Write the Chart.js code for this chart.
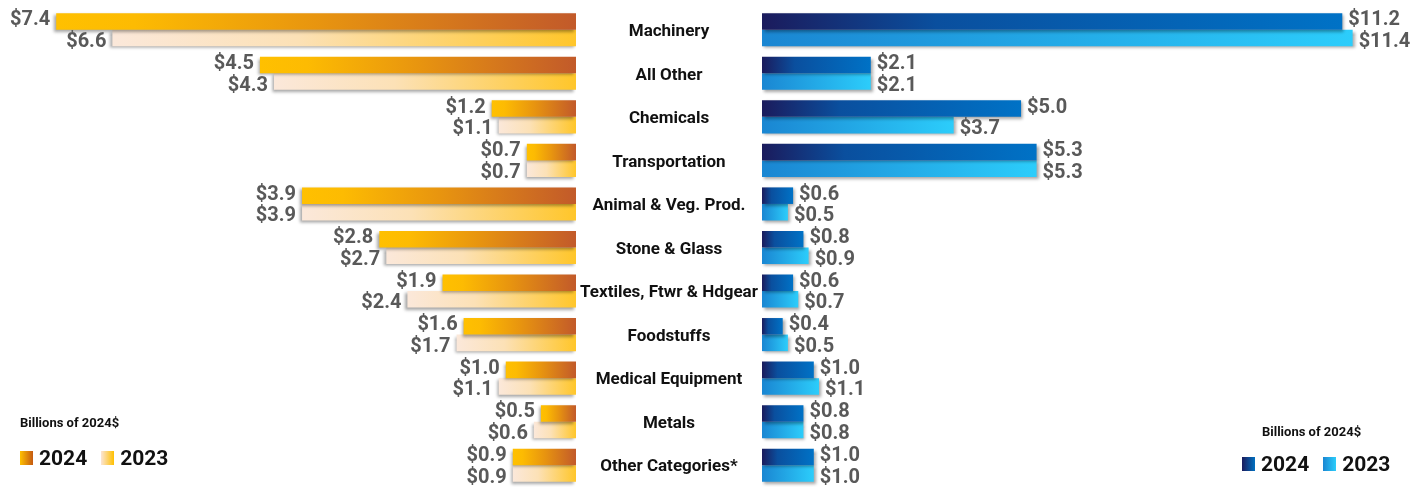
<!DOCTYPE html>
<html>
<head>
<meta charset="utf-8">
<script src="https://cdn.jsdelivr.net/npm/chart.js@4.4.1/dist/chart.umd.min.js"></script>
<style>
  body { margin: 0; background: #fff; font-family: Roboto, sans-serif; }
  #wrap { position: relative; width: 1420px; height: 489px; overflow: hidden; }
  #leftBox { position: absolute; left: 0; top: 0; width: 576px; height: 489px; }
  #rightBox { position: absolute; left: 576px; top: 0; width: 844px; height: 489px; }
  .unit { position: absolute; font-weight: 700; font-size: 13px; color: #111; }
  .legend { position: absolute; display: flex; align-items: center; font-weight: 700; font-size: 21px; color: #111; }
  .legend span.sw { display: inline-block; width: 13px; height: 14px; margin-right: 6px; }
  .legend span.txt { margin-right: 14px; }
</style>
</head>
<body>
<div id="wrap">
  <div id="leftBox"><canvas id="leftChart"></canvas></div>
  <div id="rightBox"><canvas id="rightChart"></canvas></div>

  <div class="unit" style="left:20px; top:415px;">Billions of 2024$</div>
  <div class="legend" style="left:20px; top:446px;">
    <span class="sw" style="background:linear-gradient(90deg,#ffc000,#c55a11);"></span><span class="txt">2024</span>
    <span class="sw" style="background:linear-gradient(90deg,#fbe5d6,#ffc000);"></span><span class="txt">2023</span>
  </div>

  <div class="unit" style="left:1262px; top:424px;">Billions of 2024$</div>
  <div class="legend" style="left:1242px; top:452px;">
    <span class="sw" style="background:linear-gradient(90deg,#1b1b5c,#0070c0);"></span><span class="txt">2024</span>
    <span class="sw" style="background:linear-gradient(90deg,#1a86d2,#2ccdfb);"></span><span class="txt">2023</span>
  </div>
</div>

<script>
// chart values (billions of 2024$)
const categories = ['Machinery', 'All Other', 'Chemicals', 'Transportation', 'Animal & Veg. Prod.',
  'Stone & Glass', 'Textiles, Ftwr & Hdgear', 'Foodstuffs', 'Medical Equipment', 'Metals', 'Other Categories*'];
const years = ['2024', '2023'];
const left2024 = [7.4, 4.5, 1.2, 0.7, 3.9, 2.8, 1.9, 1.6, 1.0, 0.5, 0.9];
const left2023 = [6.6, 4.3, 1.1, 0.7, 3.9, 2.7, 2.4, 1.7, 1.1, 0.6, 0.9];
const right2024 = [11.2, 2.1, 5.0, 5.3, 0.6, 0.8, 0.6, 0.4, 1.0, 0.8, 1.0];
const right2023 = [11.4, 2.1, 3.7, 5.3, 0.5, 0.9, 0.7, 0.5, 1.1, 0.8, 1.0];

// gradient along each bar, from its base to its end
function barGradient(stops) {
  return function (context) {
    const chart = context.chart;
    if (!chart.chartArea || context.type !== 'data') return stops[stops.length - 1][1];
    const x = chart.scales.x;
    const x0 = x.getPixelForValue(0);
    const x1 = x.getPixelForValue(context.parsed.x);
    if (Math.abs(x1 - x0) < 1) return stops[0][1];
    const g = chart.ctx.createLinearGradient(x0, 0, x1, 0);
    stops.forEach(s => g.addColorStop(s[0], s[1]));
    return g;
  };
}

function shadowPlugin(dx) {
  return {
    id: 'barShadow',
    beforeDatasetsDraw(chart) {
      const ctx = chart.ctx;
      ctx.save();
      ctx.shadowColor = 'rgba(0,0,0,0.35)';
      ctx.shadowBlur = 3;
      ctx.shadowOffsetX = dx;
      ctx.shadowOffsetY = 2;
    },
    afterDatasetsDraw(chart) {
      chart.ctx.restore();
    }
  };
}

// $ labels next to each bar end
function valueLabels(side) {
  return {
    id: 'valueLabels',
    afterDatasetsDraw(chart) {
      const ctx = chart.ctx;
      ctx.save();
      ctx.font = 'bold 20px Roboto';
      ctx.fillStyle = '#595959';
      ctx.textBaseline = 'middle';
      ctx.textAlign = side === 'left' ? 'right' : 'left';
      chart.data.datasets.forEach((ds, di) => {
        chart.getDatasetMeta(di).data.forEach((bar, i) => {
          const txt = '$' + ds.data[i].toFixed(1);
          const x = side === 'left' ? bar.x - 6 : bar.x + 6;
          const y = bar.y + (di === 0 ? -1 : 4);
          ctx.fillText(txt, x, y);
        });
      });
      ctx.restore();
    }
  };
}

const categoryLabels = {
  id: 'categoryLabels',
  afterDraw(chart) {
    const ctx = chart.ctx;
    const y = chart.scales.y;
    ctx.save();
    ctx.font = 'bold 17px Roboto';
    ctx.fillStyle = '#111';
    ctx.textAlign = 'center';
    ctx.textBaseline = 'middle';
    categories.forEach((c, i) => {
      ctx.fillText(c, chart.chartArea.left - 93, y.getPixelForValue(i) + 2);
    });
    ctx.restore();
  }
};

const baseOptions = (max, reverse, padLeft) => ({
  indexAxis: 'y',
  responsive: true,
  maintainAspectRatio: false,
  animation: false,
  layout: { padding: { left: padLeft, right: 0, top: 8, bottom: 2 } },
  plugins: { legend: { display: false }, tooltip: { enabled: false } },
  datasets: { bar: { categoryPercentage: 0.76, barPercentage: 1.0 } },
  scales: {
    x: { display: false, min: 0, max: max, reverse: reverse },
    y: { display: false }
  }
});

new Chart(document.getElementById('leftChart'), {
  type: 'bar',
  data: {
    labels: categories,
    datasets: [{
      label: years[0],
      data: left2024,
      backgroundColor: barGradient([[0, '#c25a2a'], [0.5, '#e8950f'], [0.85, '#fdbb02'], [1, '#ffc000']])
    }, {
      label: years[1],
      data: left2023,
      backgroundColor: barGradient([[0, '#ffc62a'], [0.6, '#fce1b6'], [1, '#fbe8da']])
    }]
  },
  options: baseOptions(8.2, true, 0),
  plugins: [shadowPlugin(-2), valueLabels('left')]
});

new Chart(document.getElementById('rightChart'), {
  type: 'bar',
  data: {
    labels: categories,
    datasets: [{
      label: years[0],
      data: right2024,
      backgroundColor: barGradient([[0, '#1b1b5c'], [0.3, '#0a4f9e'], [1, '#0072c6']])
    }, {
      label: years[1],
      data: right2023,
      backgroundColor: barGradient([[0, '#1a86d2'], [1, '#2ccdfb']])
    }]
  },
  options: baseOptions(12.7, false, 186),
  plugins: [shadowPlugin(2), valueLabels('right'), categoryLabels]
});
</script>
</body>
</html>
